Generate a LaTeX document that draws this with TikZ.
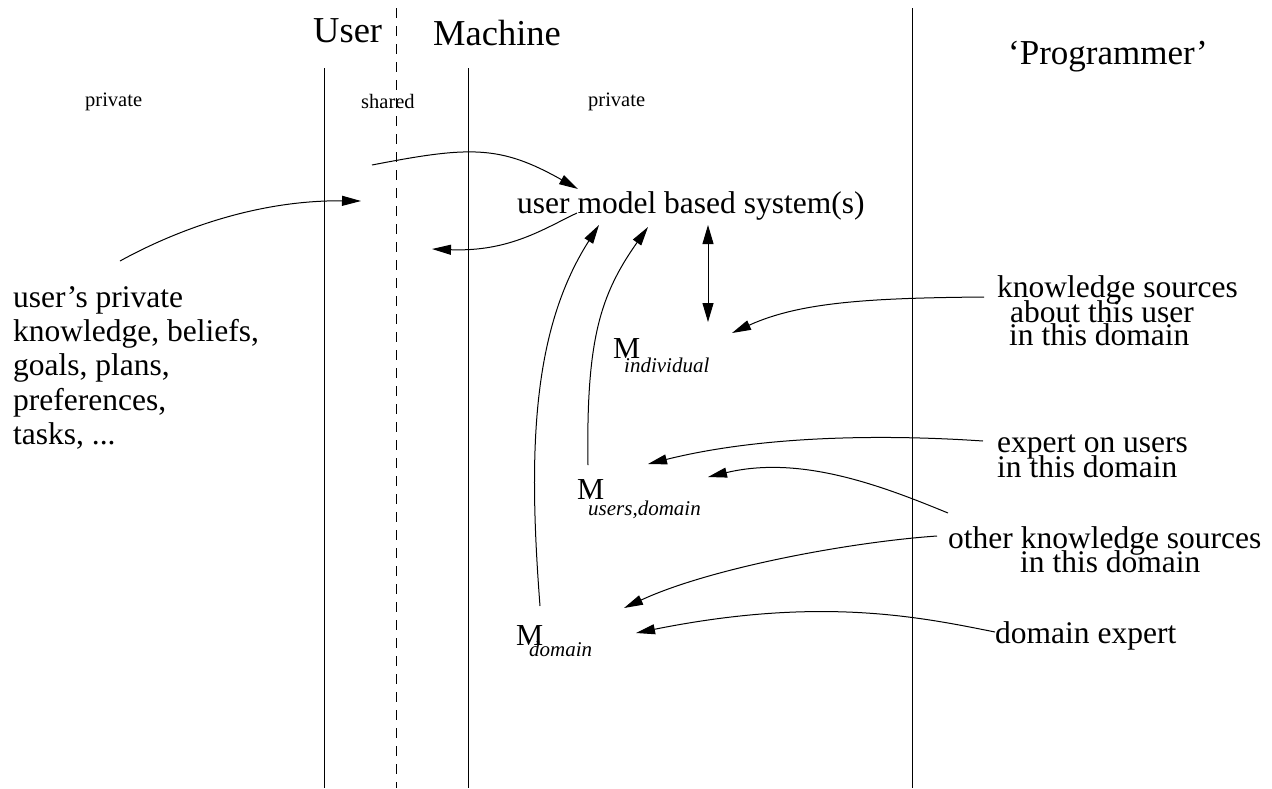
\documentclass[tikz,border=0pt]{standalone}
\usepackage{fontspec}
\setmainfont{Liberation Serif}
\usetikzlibrary{arrows.meta}
\begin{document}
\begin{tikzpicture}[x=1pt,y=-1pt,
  txt/.style={inner sep=0pt, anchor=base west},
  big/.style={txt, font=\fontsize{31.5}{34}\selectfont},
  title/.style={txt, font=\fontsize{36.5}{40}\selectfont},
  small/.style={txt, font=\fontsize{20.5}{22}\selectfont},
  mm/.style={txt, font=\fontsize{30.5}{32}\selectfont},
  sub/.style={txt, font=\fontsize{21}{23}\selectfont\itshape},
  divider/.style={line width=1pt},
  conn/.style={line width=1pt, -{Triangle[length=19pt,width=10pt]}},
  dconn/.style={line width=1pt, {Triangle[length=19pt,width=11pt]}-{Triangle[length=19pt,width=11pt]}}
]
\useasboundingbox (0,0) rectangle (1272,788);

% column dividers
\coordinate (l1t) at (324,68);  \coordinate (l1b) at (324,788);
\coordinate (l2t) at (468,68);  \coordinate (l2b) at (468,788);
\coordinate (l3t) at (912,8);   \coordinate (l3b) at (912,788);
\coordinate (dt) at (396,8);    \coordinate (db) at (396,788);
\draw[divider] (l1t) -- (l1b);
\draw[divider] (l2t) -- (l2b);
\draw[divider] (l3t) -- (l3b);
\draw[divider, dash pattern=on 10pt off 8pt] (dt) -- (db);

% titles
\node[title] (user) at (313,42) {User};
\node[title] (machine) at (433,45) {Machine};
\node[title, font=\fontsize{35}{38}\selectfont] (prog) at (1008,64) {‘Programmer’};

\node[small] (priv1) at (85,106) {private};
\node[small] (shared) at (361,108) {shared};
\node[small] (priv2) at (588,106) {private};

% left text
\node[big, align=left, anchor=north west, font=\fontsize{31.5}{34.3}\selectfont] (utext) at (13,286)
  {user’s private\\knowledge, beliefs,\\goals, plans,\\preferences,\\tasks, ...};

% system
\node[big] (sys) at (517,213) {user model based system(s)};

% models
\node[mm] (mind) at (613,358) {M};
\node[sub] (mindsub) at (624,372) {individual};
\node[mm] (musers) at (577,499) {M};
\node[sub] (muserssub) at (588,515) {users,domain};
\node[mm] (mdom) at (516,645) {M};
\node[sub] (mdomsub) at (529,656) {domain};

% right texts
\node[big] (ks1) at (997,297) {knowledge sources};
\node[big] (ks2) at (1010,322) {about this user};
\node[big] (ks3) at (1009,345) {in this domain};
\node[big] (eu1) at (997,452) {expert on users};
\node[big] (eu2) at (997,477) {in this domain};
\node[big] (ok1) at (948,548) {other knowledge sources};
\node[big] (ok2) at (1020,572) {in this domain};
\node[big] (de) at (995,643) {domain expert};

% connector end points
\coordinate (a1s) at (372,165);  \coordinate (a1e) at (578,189);
\coordinate (a2s) at (120,261);  \coordinate (a2e) at (361,201);
\coordinate (a3s) at (577,213);  \coordinate (a3e) at (432,249);
\coordinate (a4s) at (540,606);  \coordinate (a4e) at (599,225);
\coordinate (a5s) at (588,465);  \coordinate (a5e) at (648,227);
\coordinate (a6s) at (708,225);  \coordinate (a6e) at (708,322);
\coordinate (a7s) at (984,297);  \coordinate (a7e) at (732,333);
\coordinate (a8s) at (983,441);  \coordinate (a8e) at (648,464);
\coordinate (a9s) at (948,513);  \coordinate (a9e) at (708,477);
\coordinate (a10s) at (937,536); \coordinate (a10e) at (624,608);
\coordinate (a11s) at (995,632); \coordinate (a11e) at (636,633);

\draw[conn] (a1s) .. controls (470,146) and (500,145) .. (a1e);
\draw[conn] (a2s) .. controls (180,228) and (260,200) .. (a2e);
\draw[conn] (a3s) .. controls (545,228) and (510,252) .. (a3e);
\draw[conn] (a4s) .. controls (528,450) and (532,330) .. (a4e);
\draw[conn] (a5s) .. controls (586,340) and (600,295) .. (a5e);
\draw[dconn] (a6s) -- (a6e);
\draw[conn] (a7s) .. controls (870,298) and (800,302) .. (a7e);
\draw[conn] (a8s) .. controls (880,434) and (760,436) .. (a8e);
\draw[conn] (a9s) .. controls (880,485) and (800,455) .. (a9e);
\draw[conn] (a10s) .. controls (850,542) and (710,568) .. (a10e);
\draw[conn] (a11s) .. controls (920,617) and (820,596) .. (a11e);
\end{tikzpicture}
\end{document}
